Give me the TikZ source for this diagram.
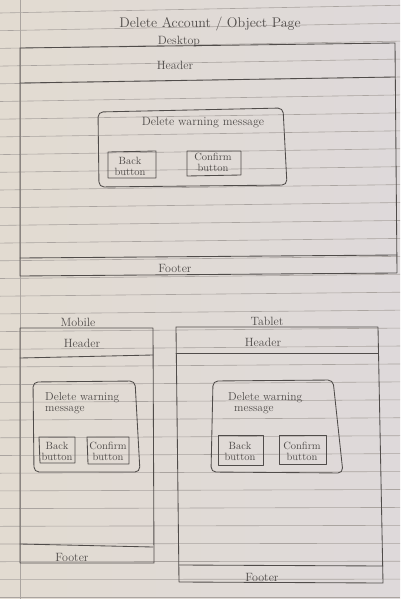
\documentclass[tikz,border=0pt]{standalone}
\definecolor{paperL}{RGB}{226,219,209}
\definecolor{paperR}{RGB}{222,217,218}
\definecolor{ruleclr}{RGB}{170,164,160}
\definecolor{pencil}{RGB}{80,76,74}
\begin{document}
\begin{tikzpicture}[x=1pt,y=-1pt,
  sketch/.style={draw=pencil, line width=0.85pt, line join=round, line cap=round},
  dialog/.style={sketch, rounded corners=5pt},
  ruled/.style={draw=ruleclr, line width=0.6pt},
  hand/.style={text=pencil, inner sep=0pt, font=\fontsize{12}{10}\selectfont, align=center},
  msgtext/.style={hand, align=left, anchor=west, font=\fontsize{11.5}{11.5}\selectfont},
  btntext/.style={hand, font=\fontsize{10.5}{11}\selectfont},
  titletext/.style={hand, font=\fontsize{14}{16}\selectfont}]
\useasboundingbox (0,0) rectangle (400,599);
% paper
\shade[left color=paperL, right color=paperR] (0,0) rectangle (400,599);
% ruled lines, slightly tilted near the top of the sheet
\foreach \k in {-1,...,32} {
  \pgfmathsetmacro\yl{30.7+17.7*\k}
  \pgfmathsetmacro\yr{\yl-7.5*(1-\k/32)}
  \draw[ruled] (0,\yl) -- (400,\yr);
}
% margin line
\draw[ruled] (20.7,0) -- (20.7,599);

% ---- title ----
\node[titletext] (title) at (210,24) {Delete Account / Object Page};

% ---- desktop ----
\node[hand] (desklabel) at (179,42) {Desktop};
\draw[sketch] (20,48) -- (395,43) -- (397,273) -- (20,276) -- cycle;
\draw[sketch] (20,83) -- (395,77);
\draw[sketch] (20,258) -- (397,255);
\node[hand] (deskheader) at (175,65) {Header};
\node[hand] (deskfooter) at (175,268) {Footer};
\draw[dialog] (98,112) -- (283,108) -- (287,185) -- (99,187) -- cycle;
\node[hand] (deskmsg) at (203,123) {Delete warning message};
\draw[sketch] (108,152) -- (156,151) -- (156,178) -- (108,178) -- cycle;
\node[btntext] (deskback) at (130,166) {Back\\button};
\draw[sketch] (187,151) -- (241,151) -- (241,175) -- (187,176) -- cycle;
\node[btntext] (deskconfirm) at (213,162) {Confirm\\button};

% ---- mobile ----
\node[hand] (moblabel) at (78,322) {Mobile};
\draw[sketch] (20,328) -- (153,328) -- (154,563) -- (20,563) -- cycle;
\draw[sketch] (20,358) -- (153,355);
\draw[sketch] (20,544) -- (153,547);
\node[hand] (mobheader) at (82,343) {Header};
\node[hand] (mobfooter) at (72,557) {Footer};
\draw[dialog] (33,382) -- (135,381) -- (140,472) -- (34,472) -- cycle;
\node[msgtext] (mobmsg) at (45,403) {Delete warning\\message};
\draw[sketch] (39,437) -- (75,437) -- (75,463) -- (40,463) -- cycle;
\node[btntext] (mobback) at (57,451.5) {Back\\button};
\draw[sketch] (87,437) -- (129,437) -- (129,464) -- (88,464) -- cycle;
\node[btntext] (mobconfirm) at (108,451.5) {Confirm\\button};

% ---- tablet ----
\node[hand] (tablabel) at (267,321) {Tablet};
\draw[sketch] (176,327) -- (378,327) -- (383,583) -- (179,582) -- cycle;
\draw[sketch] (176,353) -- (378,353);
\draw[sketch] (179,565) -- (383,566);
\node[hand] (tabheader) at (263,342) {Header};
\node[hand] (tabfooter) at (262,577) {Footer};
\draw[dialog] (213,381) -- (333,380) -- (343,473) -- (211,472) -- cycle;
\node[msgtext] (tabmsg) at (228,403) {Delete warning\\\hspace*{6pt}message};
\draw[sketch] (218,435) -- (263,435) -- (263,465) -- (218,465) -- cycle;
\node[btntext] (tabback) at (240,451.5) {Back\\button};
\draw[sketch] (279,435) -- (326,435) -- (326,464) -- (279,464) -- cycle;
\node[btntext] (tabconfirm) at (302,451) {Confirm\\button};
\end{tikzpicture}
\end{document}
